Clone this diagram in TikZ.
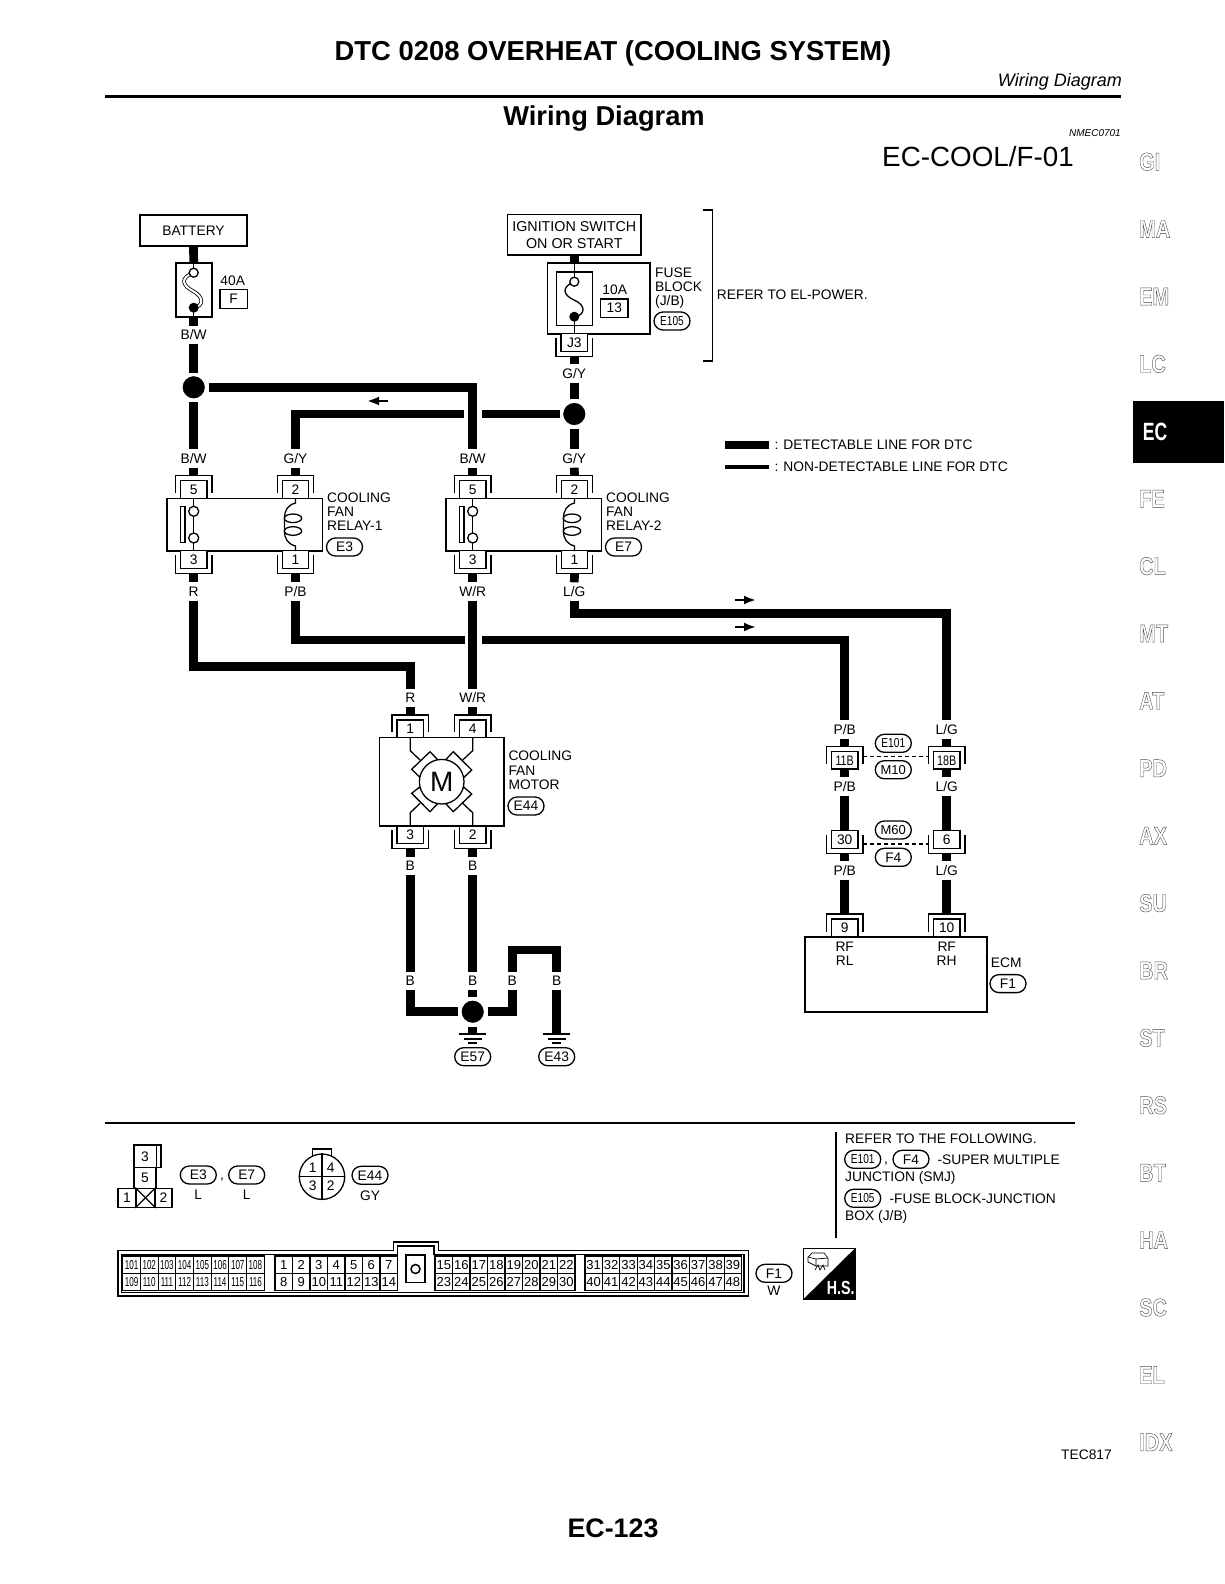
\documentclass[tikz,border=0pt]{standalone}
\usepackage{fontspec}
\setmainfont{Liberation Sans}
\usetikzlibrary{arrows.meta,shapes.misc}
\newcommand{\fs}[1]{\fontsize{#1}{#1}\selectfont}
\newcommand{\lbl}{\fontsize{13.8}{14.3}\selectfont}
\newcommand{\nar}[1]{\scalebox{.78}[1]{#1}}
\newcommand{\outl}[1]{\scalebox{.8}[1]{\special{pdf:code q 1 Tr 0.45 w 0.3 G}#1\special{pdf:code Q}}}
\newcommand{\cellnum}[1]{\ifnum#1>100 \scalebox{.62}[1]{#1}\else #1\fi}
\tikzset{
  every node/.style={inner sep=0pt,font=\lbl},
  thinline/.style={line width=1.3pt},
  wire/.style={line width=8.7pt},
  lowwire/.style={line width=4pt},
  wlabel/.style={minimum height=18pt,text height=9.7pt,text depth=0pt},
  txt/.style={anchor=west,align=left},
  box/.style={draw,line width=1.6pt,fill=white},
  pinbox/.style={draw,fill=white,line width=1.3pt,minimum width=26.6pt,minimum height=17.5pt},
  pill/.style={draw,rounded rectangle,line width=1.3pt,minimum width=36pt,minimum height=18pt},
  dot/.style={circle,fill=black,draw=white,line width=3.6pt,minimum size=26pt},
  cellbox/.style={draw,line width=1.1pt,minimum height=17.4pt,font=\fs{13}},
  runarrow/.style={line width=2.4pt,-{Latex[length=12pt,width=9pt]}}
}
\newcommand{\pinup}[4]{%
  \node[pinbox] (#1) at (#2,#3) {#4};
  \draw[thinline] (#2-18.2,#3+3.75) |- (#2,#3-13.75) -| (#2+18.2,#3+3.75);
  \coordinate (#1w) at (#2,#3-13.75);
  \coordinate (#1l) at (#2-18.2,#3-4);
  \coordinate (#1r) at (#2+18.2,#3-4);
}
\newcommand{\pindown}[4]{%
  \node[pinbox] (#1) at (#2,#3) {#4};
  \draw[thinline] (#2-18.2,#3-4.75) |- (#2,#3+13.75) -| (#2+18.2,#3-4.75);
  \coordinate (#1w) at (#2,#3+13.75);
  \coordinate (#1l) at (#2-18.2,#3+4.5);
  \coordinate (#1r) at (#2+18.2,#3+4.5);
}
\newcommand{\ground}[3]{%
  \coordinate (#1) at (#2,#3);
  \draw[line width=1.7pt] (#2-13.3,#3) -- (#2+13.3,#3);
  \draw[line width=1.7pt] (#2-8.8,#3+5.3) -- (#2+8.8,#3+5.3);
  \draw[line width=1.7pt] (#2-4.5,#3+9.3) -- (#2+4.5,#3+9.3);
}
\begin{document}
\begin{tikzpicture}[x=1pt,y=-1pt]
  \useasboundingbox (0,0) rectangle (1224,1584);
  \node[font=\fs{27.4}\bfseries] (title) at (613,53.5) {DTC 0208 OVERHEAT (COOLING SYSTEM)};
  \node[anchor=east,font=\fs{18}\itshape] (subtitle) at (1122,82) {Wiring Diagram};
  \draw[line width=3pt] (105,97) -- (1121,97);
  \node[font=\fs{27.3}\bfseries] (heading) at (604,119) {Wiring Diagram};
  \node[anchor=east,font=\fs{10}\itshape] (nmec) at (1121,133.5) {NMEC0701};
  \node[anchor=west,font=\fs{27.8}] (ref) at (882,156.5) {EC-COOL/F-01};

  \node[box,minimum width=107pt,minimum height=31pt] (batt) at (193.5,230.5) {BATTERY};
  \node[box,minimum width=36pt,minimum height=53.7pt] (fuseA) at (193.7,290) {};
  \draw[thinline] (fuseA.north) -- (193.7,272.7);
  \draw[thinline] (fuseA.south) -- (193.7,307.7);
  \draw[line width=.8pt,double,double distance=2pt] (193.7,272.7) .. controls (179,278) and (183,286) .. (193,291) .. controls (204,297) and (204,306) .. (193.7,307.7);
  \node[circle,draw,fill=white,thinline,minimum size=9pt] (fuseAt) at (193.7,272.7) {};
  \node[circle,fill=black,minimum size=10pt] (fuseAb) at (193.7,307.7) {};
  \node (amp40) at (232.7,281) {40A};
  \node[draw,thinline,minimum width=27.3pt,minimum height=19pt] (ampF) at (233.6,298.8) {F};

  \node[box,minimum width=133.3pt,minimum height=40.3pt,align=center,font=\fontsize{14.3}{17}\selectfont] (ign) at (574.3,234.8) {IGNITION SWITCH\\ON OR START};
  \node[box,minimum width=102.3pt,minimum height=71pt] (blk) at (598.8,298.5) {};
  \node[draw,thinline,minimum width=36pt,minimum height=53.7pt] (fuseB) at (574.3,298.9) {};
  \draw[thinline] (blk.north -| fuseB) -- (574.3,281.7);
  \draw[thinline] (574.3,316.7) -- (blk.south -| fuseB);
  \draw[thinline] (574.3,281.7) .. controls (561,287) and (563,295) .. (574,300) .. controls (586,305) and (586,315) .. (574.3,316.7);
  \node[circle,draw,fill=white,thinline,minimum size=9pt] (fuseBt) at (574.3,281.7) {};
  \node[circle,fill=black,minimum size=10pt] (fuseBb) at (574.3,316.7) {};
  \node (amp10) at (614.7,290) {10A};
  \node[draw,thinline,minimum width=27.3pt,minimum height=18.3pt] (amp13) at (614.3,308.2) {13};
  \node[txt,anchor=north west] (blktxt) at (655,267.5) {FUSE\\BLOCK\\(J/B)};
  \node[pill,font=\fs{13}] (E105a) at (672,321) {\nar{E105}};
  \pindown{pinJ}{574.3}{342.5}{J3}
  \draw[line width=1.6pt] (702.7,210) -- (712.3,210) -- (712.3,361) -- (702.7,361);
  \node[txt] (elpower) at (716.7,294.3) {REFER TO EL-POWER.};

  \coordinate (legAa) at (725,445);
  \coordinate (legAb) at (769,445);
  \coordinate (legBa) at (725,467);
  \coordinate (legBb) at (769,467);
  \draw[line width=8pt] (legAa) -- (legAb);
  \draw[lowwire] (legBa) -- (legBb);
  \node[txt] (legA) at (774.3,444.5) {: DETECTABLE LINE FOR DTC};
  \node[txt] (legB) at (774.3,467) {: NON-DETECTABLE LINE FOR DTC};

  \foreach \rl/\dx/\rtag in {1/0/E3,2/279/E7}{
    \begin{scope}[xshift=\dx pt]
      \node[box,minimum width=155.6pt,minimum height=52.7pt] (relay\rl) at (244.5,524.7) {};
      \pinup{pinA\rl}{193.7}{489.5}{5}
      \pinup{pinB\rl}{295.5}{489.5}{2}
      \pindown{pinC\rl}{193.7}{559.5}{3}
      \pindown{pinD\rl}{295.5}{559.5}{1}
      \draw[thinline] (193.7,498.3) -- (193.7,551);
      \node[circle,draw,fill=white,thinline,minimum size=10pt] (relayT\rl) at (193.7,511.3) {};
      \node[circle,draw,fill=white,thinline,minimum size=10pt] (relayB\rl) at (193.7,538) {};
      \draw[thinline] (180.7,506.7) rectangle (185,542.7);
      \draw[thinline] (295.5,498.3) -- (295.5,503) .. controls (288,505) and (284.5,510) .. (284.5,518) -- (284.5,531) .. controls (284.5,539) and (288,544) .. (295.5,546) -- (295.5,551);
      \draw[thinline] (293,518.3) ellipse (8.7 and 4.3);
      \draw[thinline] (293,531) ellipse (8.7 and 4.3);
      \node[txt,anchor=north west] (relayTxt\rl) at (327,492.5) {COOLING\\FAN\\RELAY-\rl};
      \node[pill] (\rtag) at (344.5,547) {\rtag};
    \end{scope}
  }

  \node[wlabel] (lbBWa) at (193.7,334.7) {B/W};
  \node[wlabel] (lbBWb) at (193.7,458.5) {B/W};
  \node[wlabel] (lbGYa) at (295.5,458.5) {G/Y};
  \node[wlabel] (lbBWc) at (472.7,458.5) {B/W};
  \node[wlabel] (lbGYb) at (574.3,373.5) {G/Y};
  \node[wlabel] (lbGYc) at (574.3,458.5) {G/Y};
  \node[wlabel] (lbR) at (193.7,591.5) {R};
  \node[wlabel] (lbPB) at (295.5,591.5) {P/B};
  \node[wlabel] (lbWR) at (472.7,591.5) {W/R};
  \node[wlabel] (lbLG) at (574.3,591.5) {L/G};
  \node[wlabel] (lbRb) at (410.3,698) {R};
  \node[wlabel] (lbWRb) at (472.7,698) {W/R};
  \node[dot] (jBW) at (193.7,387.3) {};
  \node[dot] (jGY) at (574.3,414) {};
  \coordinate (gapGYr) at (481.7,414);
  \coordinate (gapGYl) at (463.5,414);
  \coordinate (gapPBl) at (464.5,640);
  \coordinate (gapPBr) at (482.3,640);
  \coordinate (bendR) at (300,666.7);
  \coordinate (bendLG) at (700,613.3);

  \draw[wire] (batt.south) -- (fuseA.north);
  \draw[wire] (fuseA.south) -- (lbBWa.north);
  \draw[wire] (lbBWa.south) -- (jBW.north);
  \draw[wire] (jBW.south) -- (lbBWb.north);
  \draw[wire] (lbBWb.south) -- (pinA1w);
  \draw[wire] (jBW.east) -| (lbBWc.north);
  \draw[wire] (lbBWc.south) -- (pinA2w);
  \draw[wire] (ign.south) -- (ign.south |- blk.north);
  \draw[wire] (pinJw) -- (lbGYb.north);
  \draw[wire] (lbGYb.south) -- (jGY.north);
  \draw[wire] (jGY.south) -- (lbGYc.north);
  \draw[wire] (lbGYc.south) -- (pinB2w);
  \draw[wire] (jGY.west) -- (gapGYr);
  \draw[wire] (gapGYl) -| (lbGYa.north);
  \draw[wire] (lbGYa.south) -- (pinB1w);
  \draw[wire] (pinC1w) -- (lbR.north);
  \draw[wire] (pinD1w) -- (lbPB.north);
  \draw[wire] (pinC2w) -- (lbWR.north);
  \draw[wire] (pinD2w) -- (lbLG.north);
  \draw[wire] (lbR.south) |- (bendR) -| (lbRb.north);
  \draw[wire] (lbWR.south) -- (lbWRb.north);
  \draw[wire] (lbPB.south) |- (gapPBl);
  \coordinate (arrGYa) at (388,401);
  \coordinate (arrGYb) at (367,401);
  \coordinate (arrLGa) at (735,600);
  \coordinate (arrLGb) at (756,600);
  \coordinate (arrPBa) at (735,627);
  \coordinate (arrPBb) at (756,627);
  \draw[runarrow] (arrGYa) -- (arrGYb);
  \draw[runarrow] (arrLGa) -- (arrLGb);
  \draw[runarrow] (arrPBa) -- (arrPBb);

  \node[box,minimum width=124.7pt,minimum height=88.7pt] (motor) at (441.65,781.7) {};
  \pinup{pinM1}{410.3}{728.6}{1}
  \pinup{pinM4}{472.7}{728.6}{4}
  \pindown{pinM3}{410.3}{834.7}{3}
  \pindown{pinM2}{472.7}{834.7}{2}
  \draw[thinline] (410.3,737.3) -- (410.3,750.7) -- (420,760);
  \draw[thinline] (472.7,737.3) -- (472.7,750.7) -- (462.7,760);
  \draw[thinline] (410.3,826) -- (410.3,812.7) -- (420,803.3);
  \draw[thinline] (472.7,826) -- (472.7,812.7) -- (462.7,803.3);
  \draw[thinline,fill=white] (411.7,769.3) -- (430,751.7) -- (437.3,759.3) -- (419.3,776.7) -- cycle;
  \draw[thinline,fill=white] (446,759.3) -- (453.3,751.7) -- (471.7,770) -- (464,777.3) -- cycle;
  \draw[thinline,fill=white] (419.3,787.3) -- (411.7,793.3) -- (430,811.7) -- (437.3,804) -- cycle;
  \draw[thinline,fill=white] (464,787.3) -- (471.7,794) -- (453.3,811.7) -- (446,804) -- cycle;
  \node[circle,draw,fill=white,thinline,minimum size=44.6pt,font=\fs{28}] (motorM) at (441.7,781.7) {M};
  \node[txt,anchor=north west] (motorTxt) at (508.3,751) {COOLING\\FAN\\MOTOR};
  \node[pill] (E44a) at (526,806) {E44};

  \node[wlabel] (lbBa) at (410.3,866) {B};
  \node[wlabel] (lbBb) at (472.7,866) {B};
  \node[wlabel] (lbBc) at (410.3,981) {B};
  \node[wlabel] (lbBd) at (472.7,981) {B};
  \node[wlabel] (lbBe) at (512.3,981) {B};
  \node[wlabel] (lbBf) at (556.7,981) {B};
  \node[dot] (jGnd) at (472.7,1011.7) {};
  \coordinate (bendB) at (534,950);
  \ground{gndE}{472.7}{1034}
  \ground{gndF}{556.7}{1034}
  \node[pill] (E57) at (472.7,1056.7) {E57};
  \node[pill] (E43) at (556.7,1056.7) {E43};
  \draw[wire] (lbRb.south) -- (pinM1w);
  \draw[wire] (lbWRb.south) -- (pinM4w);
  \draw[wire] (pinM3w) -- (lbBa.north);
  \draw[wire] (pinM2w) -- (lbBb.north);
  \draw[wire] (lbBa.south) -- (lbBc.north);
  \draw[wire] (lbBb.south) -- (lbBd.north);
  \draw[wire] (lbBc.south) |- (jGnd.west);
  \draw[wire] (lbBd.south) -- (jGnd.north);
  \draw[wire] (jGnd.east) -| (lbBe.south);
  \draw[wire] (lbBe.north) |- (bendB) -| (lbBf.north);
  \draw[wire] (lbBf.south) -- (gndF);
  \draw[wire] (jGnd.south) -- (gndE);

  \node[wlabel] (lbPBb) at (844.7,729.3) {P/B};
  \node[wlabel] (lbLGb) at (946.7,729.3) {L/G};
  \node[wlabel] (lbPBc) at (844.7,786.5) {P/B};
  \node[wlabel] (lbLGc) at (946.7,786.5) {L/G};
  \node[wlabel] (lbPBd) at (844.7,870.5) {P/B};
  \node[wlabel] (lbLGd) at (946.7,870.5) {L/G};
  \pinup{pinK}{844.7}{760.3}{\nar{11B}}
  \pinup{pinL}{946.7}{760.3}{\nar{18B}}
  \pindown{pinN}{844.7}{839.5}{30}
  \pindown{pinO}{946.7}{839.5}{6}
  \pinup{pinP}{844.7}{927.8}{9}
  \pinup{pinQ}{946.7}{927.8}{10}
  \draw[line width=1.5pt,dashed,dash pattern=on 4pt off 3pt] (pinKr) -- (pinLl);
  \draw[line width=1.5pt,dashed,dash pattern=on 4pt off 3pt] (pinNr) -- (pinOl);
  \node[pill,font=\fs{13}] (E101a) at (893.3,743.3) {\nar{E101}};
  \node[pill,font=\fs{13}] (M10) at (893.3,769.7) {M10};
  \node[pill,font=\fs{13}] (M60) at (893.3,830) {M60};
  \node[pill] (F4a) at (893.3,857.3) {F4};
  \node[box,minimum width=182pt,minimum height=75pt] (ecm) at (895.7,974.2) {};
  \node[align=center] (rfl) at (844.7,953.5) {RF\\RL};
  \node[align=center] (rfh) at (946.7,953.5) {RF\\RH};
  \node[txt] (ecmTxt) at (990.7,962.5) {ECM};
  \node[pill] (F1a) at (1008,983.6) {F1};
  \draw[wire] (lbLG.south) |- (bendLG) -| (lbLGb.north);
  \draw[wire] (gapPBr) -| (lbPBb.north);
  \draw[wire] (lbPBb.south) -- (pinKw);
  \draw[wire] (lbLGb.south) -- (pinLw);
  \draw[wire] (pinK.south) -- (lbPBc.north);
  \draw[wire] (pinL.south) -- (lbLGc.north);
  \draw[wire] (lbPBc.south) -- (pinN.north);
  \draw[wire] (lbLGc.south) -- (pinO.north);
  \draw[wire] (pinNw) -- (lbPBd.north);
  \draw[wire] (pinOw) -- (lbLGd.north);
  \draw[wire] (lbPBd.south) -- (pinPw);
  \draw[wire] (lbLGd.south) -- (pinQw);

  \draw[line width=2pt] (105,1122.5) -- (1075,1122.5);
  \node[draw,thinline,minimum width=27pt,minimum height=22.3pt] (cavA) at (147.5,1156.2) {};
  \node (cavAt) at (145,1156.5) {3};
  \draw[thinline] (156.7,1145) -- (156.7,1167.3);
  \node[draw,thinline,minimum width=22pt,minimum height=21pt] (cavB) at (145,1177.8) {5};
  \node[draw,thinline,minimum width=18pt,minimum height=19pt] (cavC) at (127,1197.8) {1};
  \node[draw,thinline,minimum width=19pt,minimum height=19pt] (cavD) at (145.5,1197.8) {};
  \node[draw,thinline,minimum width=17pt,minimum height=19pt] (cavE) at (163.5,1197.8) {2};
  \draw[thinline] (cavD.north west) -- (cavD.south east);
  \draw[thinline] (cavD.north east) -- (cavD.south west);
  \node[pill] (E3b) at (198.3,1175) {E3};
  \node (commaA) at (222,1180) {,};
  \node[pill] (E7b) at (246.7,1175) {E7};
  \node (colA) at (198.3,1194.5) {L};
  \node (colB) at (246.7,1194.5) {L};
  \draw[thinline] (312.7,1158) rectangle (331.7,1149);
  \node[circle,draw,fill=white,thinline,minimum size=45.4pt] (plug) at (322,1176.7) {};
  \draw[thinline] (plug.north) -- (plug.south);
  \draw[thinline] (plug.west) -- (plug.east);
  \node (plugA) at (312.7,1167.7) {1};
  \node (plugB) at (330.7,1167.7) {4};
  \node (plugC) at (312.7,1185.7) {3};
  \node (plugD) at (330.7,1185.7) {2};
  \node[pill] (E44b) at (370,1175.3) {E44};
  \node (colC) at (370,1195.3) {GY};

  \draw[thinline] (118,1250.7) -- (393.3,1250.7) -- (393.3,1242) -- (438.3,1242) -- (438.3,1250.7) -- (748.3,1250.7) -- (748.3,1296) -- (118,1296) -- cycle;
  \draw[thinline] (121.3,1254.3) -- (397.3,1254.3) -- (397.3,1246) -- (434,1246) -- (434,1254.3) -- (744,1254.3) -- (744,1292.7) -- (121.3,1292.7) -- cycle;
  \foreach \gx/\gw/\gt/\gb/\gn in {122.7/17.7/101/109/8,275/17.5/1/8/7,435/17.5/15/23/8,585/17.4/31/40/9}{
    \foreach \i in {1,...,\gn}{
      \pgfmathsetmacro{\cx}{\gx+\gw*(\i-.5)}
      \pgfmathtruncatemacro{\nt}{\gt+\i-1}
      \pgfmathtruncatemacro{\nb}{\gb+\i-1}
      \node[cellbox,minimum width=\gw pt] (cell\nt) at (\cx,1264.7) {\cellnum{\nt}};
      \node[cellbox,minimum width=\gw pt] (cell\nb) at (\cx,1282.1) {\cellnum{\nb}};
    }
  }
  \node[draw,line width=1.5pt,minimum width=19pt,minimum height=27.7pt] (latch) at (415.5,1268.8) {};
  \node[circle,draw,line width=1.5pt,minimum size=9pt] (latchC) at (415.5,1269) {};
  \node[pill] (F1b) at (774,1273.3) {F1};
  \node (colD) at (774,1291) {W};

  \draw[line width=.8pt] (803.3,1248.3) rectangle (855,1299.3);
  \fill (855,1248.3) -- (855,1299.3) -- (803.3,1299.3) -- cycle;
  \draw[line width=.7pt] (808,1257) -- (812,1253) -- (824,1253) -- (828,1258) -- (828,1266) -- (816,1266) -- (816,1259) -- cycle;
  \draw[line width=.7pt] (816,1259) -- (828,1258);
  \draw[line width=.7pt] (808,1257) -- (808,1262) -- (816,1266);
  \draw[line width=.7pt] (815,1270) -- (818,1265) -- (820,1270) -- (823,1265) -- (825,1270);
  \node[text=white,font=\fs{19}\bfseries] (hs) at (840.7,1288) {\scalebox{.75}[1]{H.S.}};

  \draw[line width=1.7pt] (835.7,1131.7) -- (835.7,1237.7);
  \node[txt] (refA) at (845,1138.3) {REFER TO THE FOLLOWING.};
  \node[pill,font=\fs{13}] (E101b) at (862.7,1159.3) {\nar{E101}};
  \node (commaB) at (886,1164) {,};
  \node[pill] (F4b) at (911,1159.3) {F4};
  \node[txt] (refB) at (937.3,1159.3) {-SUPER MULTIPLE};
  \node[txt] (refC) at (845,1177.7) {JUNCTION (SMJ)};
  \node[pill,font=\fs{13}] (E105b) at (862.7,1198.3) {\nar{E105}};
  \node[txt] (refD) at (889.3,1198.3) {-FUSE BLOCK-JUNCTION};
  \node[txt] (refE) at (845,1216.7) {BOX (J/B)};

  \node[anchor=east] (tec) at (1112,1455) {TEC817};
  \node[font=\fs{26.8}\bfseries] (page) at (613,1528.5) {EC-123};

  \fill (1133,401) rectangle (1224,462.7);
  \node[text=white,font=\fs{25}\bfseries] (tabEC) at (1155,431.7) {\scalebox{.7}[1]{EC}};
  \foreach \tb/\i in {GI/0,MA/1,EM/2,LC/3,FE/5,CL/6,MT/7,AT/8,PD/9,AX/10,SU/11,BR/12,ST/13,RS/14,BT/15,HA/16,SC/17,EL/18,IDX/19}{
    \pgfmathsetmacro{\ty}{161.7+67.4*\i}
    \node[anchor=west,font=\fs{25}\bfseries] (tab\tb) at (1139,\ty) {\outl{\tb}};
  }
\end{tikzpicture}
\end{document}
